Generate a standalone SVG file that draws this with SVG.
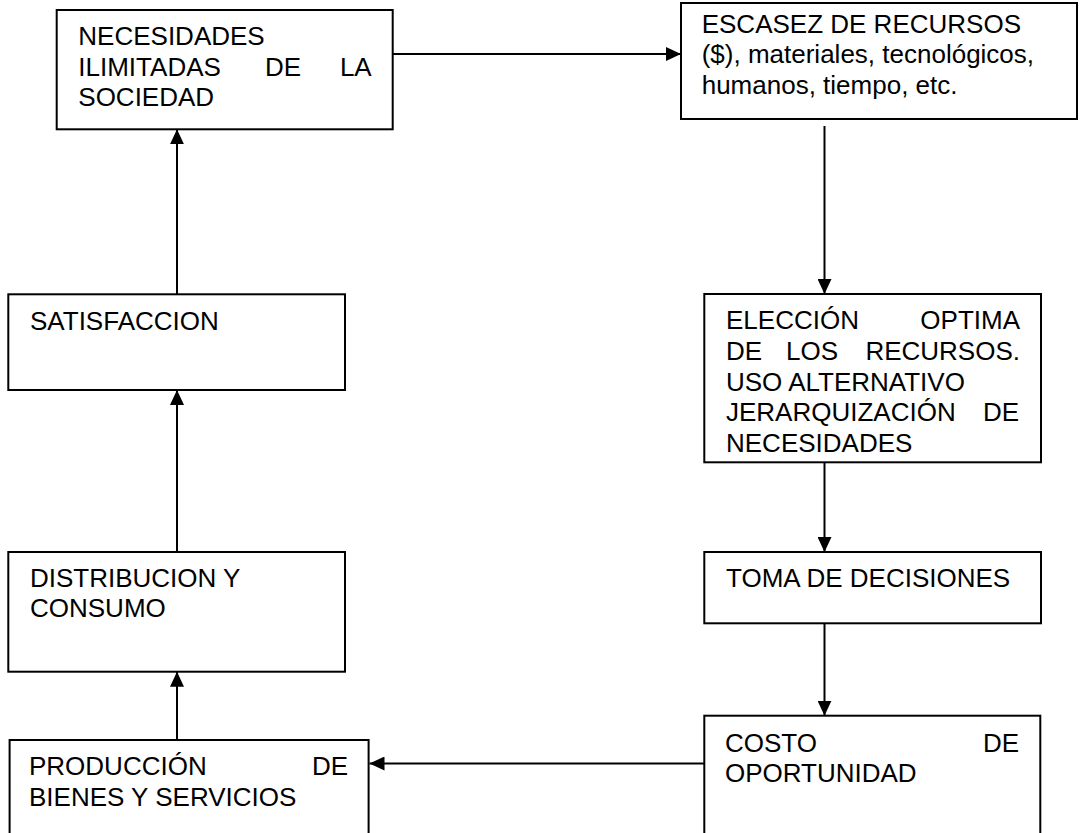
<svg xmlns="http://www.w3.org/2000/svg" width="1080" height="833" viewBox="0 0 1080 833">
<style>
.box{fill:#fff;stroke:#000;stroke-width:2}
.t{font-family:"Liberation Sans",Arial,sans-serif;font-size:26px;fill:#000}
.e{text-anchor:end}
.c{stroke:#000;stroke-width:2;fill:none;marker-end:url(#ah)}
</style>
<defs>
<marker id="ah" markerUnits="userSpaceOnUse" markerWidth="15" markerHeight="14" refX="15" refY="7" orient="auto">
<path d="M0,0 L15,7 L0,14 z" fill="#000"/>
</marker>
</defs>
<rect width="1080" height="833" fill="#fff"/>
<g id="connectors">
<line class="c" x1="392.7" y1="54" x2="681" y2="54"/>
<line class="c" x1="824.5" y1="126" x2="824.5" y2="294"/>
<line class="c" x1="824.5" y1="456" x2="824.5" y2="552"/>
<line class="c" x1="824.5" y1="623.3" x2="824.5" y2="715.7"/>
<line class="c" x1="704.3" y1="763.5" x2="369.5" y2="763.5"/>
<line class="c" x1="177" y1="740" x2="177" y2="671.7"/>
<line class="c" x1="177" y1="552" x2="177" y2="390"/>
<line class="c" x1="177" y1="294" x2="177" y2="129.3"/>
</g>
<g id="necesidades">
<rect class="box" x="56.7" y="10" width="336" height="119.3"/>
<text class="t" x="78.3" y="45">NECESIDADES</text>
<text class="t" y="75.5"><tspan x="78.3">ILIMITADAS</tspan><tspan x="265">DE</tspan><tspan class="e" x="371.7" text-anchor="end">LA</tspan></text>
<text class="t" x="78.3" y="106">SOCIEDAD</text>
</g>
<g id="escasez">
<rect class="box" x="681" y="3" width="396" height="116"/>
<text class="t" x="701.7" y="32.7">ESCASEZ DE RECURSOS</text>
<text class="t" x="701.7" y="63.3">($), materiales, tecnológicos,</text>
<text class="t" x="701.7" y="93.8">humanos, tiempo, etc.</text>
</g>
<g id="eleccion">
<rect class="box" x="704.3" y="294" width="336.7" height="168.3"/>
<text class="t" y="329.3"><tspan x="726">ELECCIÓN</tspan><tspan x="1020" text-anchor="end">OPTIMA</tspan></text>
<text class="t" y="360"><tspan x="726">DE</tspan><tspan x="786">LOS</tspan><tspan x="1020" text-anchor="end">RECURSOS.</tspan></text>
<text class="t" x="726" y="390.5">USO ALTERNATIVO</text>
<text class="t" y="421"><tspan x="726">JERARQUIZACIÓN</tspan><tspan x="1019" text-anchor="end">DE</tspan></text>
<text class="t" x="726" y="451.5">NECESIDADES</text>
</g>
<g id="satisfaccion">
<rect class="box" x="8.3" y="294.3" width="336.7" height="95.7"/>
<text class="t" x="30" y="330">SATISFACCION</text>
</g>
<g id="distribucion">
<rect class="box" x="8.3" y="552" width="336.7" height="119.7"/>
<text class="t" x="30" y="586.7">DISTRIBUCION Y</text>
<text class="t" x="30" y="617">CONSUMO</text>
</g>
<g id="toma">
<rect class="box" x="704.3" y="552" width="336.7" height="71.3"/>
<text class="t" x="726" y="586.7">TOMA DE DECISIONES</text>
</g>
<g id="costo">
<rect class="box" x="704.3" y="715.7" width="336" height="140"/>
<text class="t" y="751.7"><tspan x="725">COSTO</tspan><tspan x="1019" text-anchor="end">DE</tspan></text>
<text class="t" x="725" y="782">OPORTUNIDAD</text>
</g>
<g id="produccion">
<rect class="box" x="9.6" y="740" width="359" height="120"/>
<text class="t" y="775"><tspan x="29">PRODUCCIÓN</tspan><tspan x="348" text-anchor="end">DE</tspan></text>
<text class="t" x="29" y="805.5">BIENES Y SERVICIOS</text>
</g>
</svg>
